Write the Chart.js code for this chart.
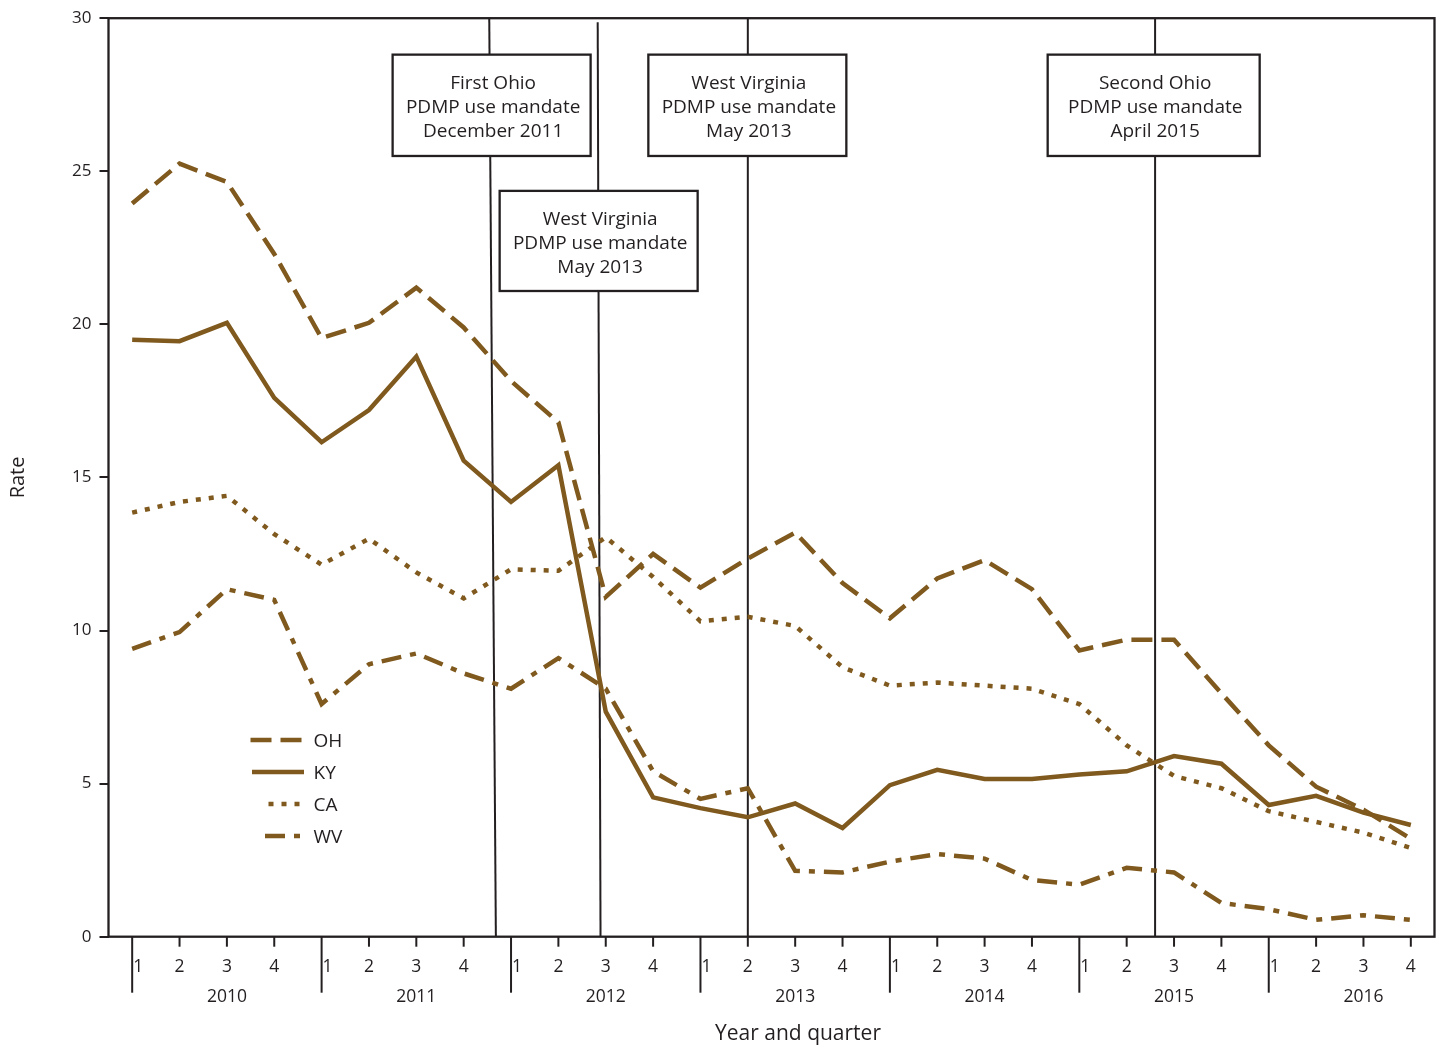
<!DOCTYPE html>
<html>
<head>
<meta charset="utf-8">
<script src="https://cdn.jsdelivr.net/npm/chart.js@4.4.1/dist/chart.umd.min.js"></script>
<style>
  html, body { margin: 0; padding: 0; background: #fff; }
  #wrap { width: 1440px; height: 1047px; position: relative; }
</style>
</head>
<body>
<div id="wrap"><canvas id="rateChart"></canvas></div>
<script>
const years = ['2010', '2011', '2012', '2013', '2014', '2015', '2016'];
const quarters = ['1', '2', '3', '4'];
const rateTicks = [0, 5, 10, 15, 20, 25, 30];

// rate per quarter, 2010 Q1 .. 2016 Q4
const ohRate = [23.95, 25.25, 24.65, 22.3, 19.55, 20.05, 21.2, 19.9, 18.15, 16.8, 11.1, 12.5, 11.4, 12.35, 13.2, 11.55, 10.4, 11.7, 12.3, 11.35, 9.35, 9.7, 9.7, 7.95, 6.25, 4.9, 4.15, 3.2];
const kyRate = [19.5, 19.45, 20.05, 17.6, 16.15, 17.2, 18.95, 15.55, 14.2, 15.4, 7.35, 4.55, 4.2, 3.9, 4.35, 3.55, 4.95, 5.45, 5.15, 5.15, 5.3, 5.4, 5.9, 5.65, 4.3, 4.6, 4.05, 3.65];
const caRate = [13.85, 14.2, 14.4, 13.15, 12.15, 13.0, 11.9, 11.05, 12.0, 11.95, 13.05, 11.75, 10.3, 10.45, 10.15, 8.8, 8.2, 8.3, 8.2, 8.1, 7.6, 6.25, 5.25, 4.85, 4.1, 3.75, 3.4, 2.9];
const wvRate = [9.4, 9.95, 11.35, 11.0, 7.6, 8.9, 9.25, 8.6, 8.1, 9.1, 8.1, 5.4, 4.5, 4.85, 2.15, 2.1, 2.45, 2.7, 2.55, 1.85, 1.7, 2.25, 2.1, 1.1, 0.9, 0.55, 0.7, 0.55];

// mandate lines, as quarter index at top and bottom of the plot (the first two are drawn slightly slanted)
const eventTopX = [7.54, 9.83, 13.0, 21.6];
const eventTopY = [30, 29.87, 30, 30];
const eventBottomX = [7.68, 9.89, 13.0, 21.6];
const eventText = [
    ['First Ohio', 'PDMP use mandate', 'December 2011'],
    ['West Virginia', 'PDMP use mandate', 'May 2013'],
    ['West Virginia', 'PDMP use mandate', 'May 2013'],
    ['Second Ohio', 'PDMP use mandate', 'April 2015']
];

const quarterLabels = [];
years.forEach(y => quarters.forEach(q => quarterLabels.push(q)));

const ink = '#231f20';
const brown = '#7f591d';
const fontFamily = '"Open Sans", "Noto Sans", sans-serif';

// box placement for the mandate labels (x centre in quarters, top/bottom in rate units, width px)
const boxLayout = [
    { x: 7.59, top: 28.81, bottom: 25.5, w: 198 },
    { x: 9.85, top: 24.36, bottom: 21.09, w: 198 },
    { x: 12.99, top: 28.81, bottom: 25.5, w: 198 },
    { x: 21.57, top: 28.81, bottom: 25.5, w: 212 }
];

const series = [
    { label: 'OH', data: ohRate, dash: [21, 9] },
    { label: 'KY', data: kyRate, dash: [] },
    { label: 'CA', data: caRate, dash: [5, 8] },
    { label: 'WV', data: wvRate, dash: [20, 9, 6, 9] }
];

const datasets = series.map(s => ({
    label: s.label,
    data: s.data.map((v, i) => ({ x: i, y: v })),
    borderColor: brown,
    borderWidth: 4.5,
    borderDash: s.dash,
    borderCapStyle: 'butt',
    borderJoinStyle: 'miter',
    pointRadius: 0,
    fill: false,
    tension: 0
}));

eventTopX.forEach((tx, k) => {
    datasets.push({
        label: 'event' + k,
        data: [{ x: tx, y: eventTopY[k] }, { x: eventBottomX[k], y: 0 }],
        borderColor: ink,
        borderWidth: 2,
        pointRadius: 0,
        fill: false
    });
});

const overlayPlugin = {
    id: 'overlay',
    afterDatasetsDraw(chart) {
        const { ctx, scales: { x, y } } = chart;
        ctx.save();
        // mandate boxes
        boxLayout.forEach((b, k) => {
            const cx = x.getPixelForValue(b.x);
            const top = y.getPixelForValue(b.top);
            const bottom = y.getPixelForValue(b.bottom);
            ctx.fillStyle = '#fff';
            ctx.fillRect(cx - b.w / 2, top, b.w, bottom - top);
            ctx.strokeStyle = ink;
            ctx.lineWidth = 2.3;
            ctx.strokeRect(cx - b.w / 2, top, b.w, bottom - top);
            ctx.fillStyle = ink;
            ctx.font = '19px ' + fontFamily;
            ctx.textAlign = 'center';
            ctx.textBaseline = 'middle';
            const mid = (top + bottom) / 2 + 2.5;
            eventText[k].forEach((t, j) => ctx.fillText(t, cx + 1.5, mid + (j - 1) * 24));
        });

        // legend
        const lx = 250.5, ly = 740;
        series.forEach((s, j) => {
            const yy = ly + j * 32;
            ctx.strokeStyle = brown;
            ctx.lineWidth = 4.5;
            ctx.lineCap = 'butt';
            ctx.setLineDash(s.dash);
            ctx.beginPath();
            if (s.label === 'OH') { ctx.moveTo(lx, yy); ctx.lineTo(lx + 51, yy); }
            else if (s.label === 'KY') { ctx.moveTo(lx + 1.5, yy); ctx.lineTo(lx + 53.5, yy); }
            else if (s.label === 'CA') { ctx.moveTo(lx + 18, yy); ctx.lineTo(lx + 51, yy); }
            else { ctx.moveTo(lx + 14.5, yy); ctx.lineTo(lx + 50.5, yy); }
            ctx.stroke();
            ctx.setLineDash([]);
            ctx.fillStyle = ink;
            ctx.font = '19px ' + fontFamily;
            ctx.textAlign = 'left';
            ctx.textBaseline = 'middle';
            ctx.fillText(s.label, 313.5, yy + 1.5);
        });
        ctx.restore();
    },
    afterDraw(chart) {
        const { ctx, chartArea: a, scales: { x } } = chart;
        ctx.save();
        ctx.strokeStyle = ink;
        ctx.lineWidth = 2.3;
        ctx.strokeRect(a.left, a.top, a.right - a.left, a.bottom - a.top);

        // quarter ticks, year separators and labels
        ctx.lineWidth = 2;
        ctx.fillStyle = ink;
        ctx.font = '17.5px ' + fontFamily;
        ctx.textAlign = 'center';
        ctx.textBaseline = 'middle';
        quarterLabels.forEach((q, i) => {
            const px = x.getPixelForValue(i);
            const len = q === '1' ? 56 : 10;
            ctx.beginPath();
            ctx.moveTo(px, a.bottom);
            ctx.lineTo(px, a.bottom + len);
            ctx.stroke();
            ctx.fillText(q, q === '1' ? px + 6 : px, a.bottom + 30);
        });
        years.forEach((yr, k) => {
            ctx.fillText(yr, x.getPixelForValue(k * 4 + 2), a.bottom + 60.5);
        });
        ctx.font = '21px ' + fontFamily;
        ctx.fillText('Year and quarter', 798, a.bottom + 97.5);
        ctx.restore();
    }
};

const ctx = document.getElementById('rateChart').getContext('2d');
const rateChart = new Chart(ctx, {
    type: 'line',
    data: { datasets: datasets },
    options: {
        responsive: true,
        maintainAspectRatio: false,
        animation: false,
        layout: { padding: { top: 18, right: 5.5, left: 0, bottom: 0 } },
        plugins: {
            legend: { display: false },
            tooltip: { enabled: false }
        },
        scales: {
            x: {
                type: 'linear',
                min: -0.5,
                max: 27.5,
                ticks: { display: false },
                grid: { display: false },
                border: { display: false },
                afterFit: s => { s.height = 110.3; }
            },
            y: {
                min: 0,
                max: 30,
                afterBuildTicks: s => { s.ticks = rateTicks.map(v => ({ value: v })); },
                ticks: { color: ink, font: { family: fontFamily, size: 17 }, padding: 8 },
                grid: { drawOnChartArea: false, tickLength: 9, color: ink, lineWidth: 2 },
                border: { display: false },
                title: { display: true, text: 'Rate', color: ink, font: { family: fontFamily, size: 20 }, padding: { top: 6, bottom: 0 } },
                afterFit: s => { s.width = 108.5; }
            }
        }
    },
    plugins: [overlayPlugin]
});
</script>
</body>
</html>
